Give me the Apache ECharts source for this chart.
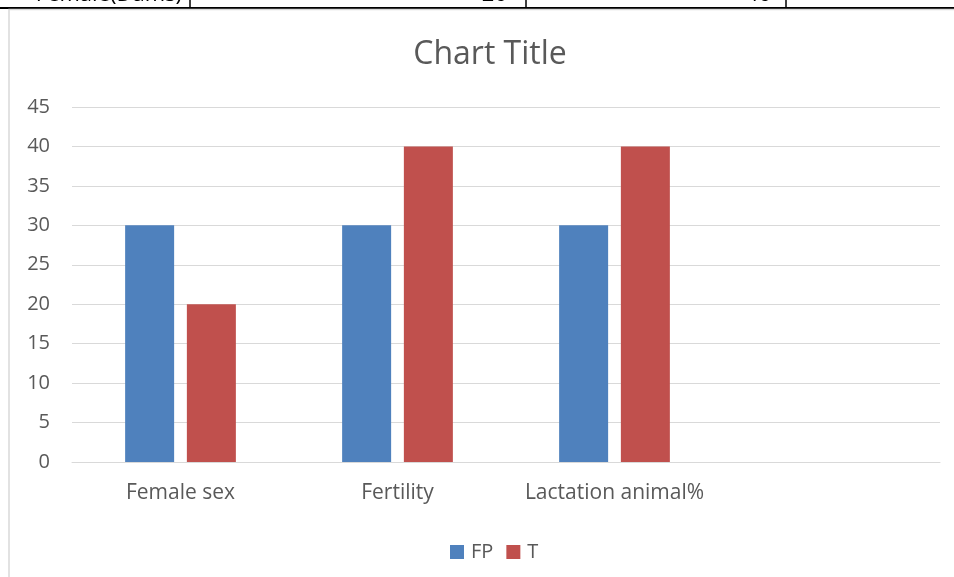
<!DOCTYPE html>
<html>
<head>
<meta charset="utf-8">
<script src="https://cdn.jsdelivr.net/npm/echarts@6/dist/echarts.min.js"></script>
<style>
    html, body { margin: 0; padding: 0; background: #fff; }
    #chart { width: 954px; height: 577px; }
</style>
</head>
<body>
<div id="chart"></div>
<script>
// Chart data
const categories = ['Female sex', 'Fertility', 'Lactation animal%', ''];
const fpValues = [30, 30, 30, null];
const tValues = [20, 40, 40, null];
const seriesNames = ['FP', 'T'];
const yTicks = { min: 0, max: 45, interval: 5 };

const FONT = '"Open Sans", Lato, sans-serif';

document.addEventListener('DOMContentLoaded', function() {
    drawChart();
});

function drawChart() {
    const myChart = echarts.init(document.getElementById('chart'));

    const option = {
        animation: false,
        backgroundColor: '#fff',
        title: {
            text: 'Chart Title',
            left: 485,
            top: 34,
            textAlign: 'center',
            textStyle: { color: '#595959', fontSize: 32, fontWeight: 'normal', fontFamily: FONT }
        },
        legend: {
            data: seriesNames,
            left: 445,
            top: 537,
            itemWidth: 14,
            itemHeight: 14,
            itemGap: 13,
            icon: 'rect',
            textStyle: { color: '#595959', fontSize: 20, fontFamily: FONT, padding: [0, 0, 0, 2] }
        },
        grid: { left: 72, right: 14, top: 107, bottom: 115, containLabel: false },
        xAxis: {
            type: 'category',
            data: categories,
            axisLine: { lineStyle: { color: '#d9d9d9', width: 1 } },
            axisTick: { show: false },
            axisLabel: { color: '#595959', fontSize: 21, fontFamily: FONT, margin: 21, interval: 0, hideOverlap: false }
        },
        yAxis: {
            type: 'value',
            min: yTicks.min,
            max: yTicks.max,
            interval: yTicks.interval,
            axisLine: { show: false },
            axisTick: { show: false },
            splitLine: { lineStyle: { color: '#d9d9d9', width: 1 } },
            axisLabel: { color: '#595959', fontSize: 20, fontFamily: FONT, margin: 22 }
        },
        series: [
            {
                name: seriesNames[0],
                type: 'bar',
                data: fpValues,
                barWidth: 49,
                barGap: '26%',
                itemStyle: { color: '#4f81bd' }
            },
            {
                name: seriesNames[1],
                type: 'bar',
                data: tValues,
                barWidth: 49,
                barGap: '26%',
                itemStyle: { color: '#c0504d' }
            }
        ],
        graphic: [
            // chart frame
            { type: 'rect', shape: { x: 9, y: 9.5, width: 960, height: 600 },
              style: { fill: null, stroke: '#d9d9d9', lineWidth: 1.5 }, z: 1 },
            // document table fragment above the chart
            { type: 'line', shape: { x1: 0, y1: 8, x2: 954, y2: 8 }, style: { stroke: '#000', lineWidth: 2 } },
            { type: 'line', shape: { x1: 190, y1: 0, x2: 190, y2: 8 }, style: { stroke: '#000', lineWidth: 1.5 } },
            { type: 'line', shape: { x1: 526, y1: 0, x2: 526, y2: 8 }, style: { stroke: '#000', lineWidth: 1.5 } },
            { type: 'line', shape: { x1: 786, y1: 0, x2: 786, y2: 8 }, style: { stroke: '#000', lineWidth: 1.5 } },
            { type: 'text', x: 182, y: 6, style: { text: 'Female(Dams)', fill: '#000', font: '22px ' + FONT, textAlign: 'right', textVerticalAlign: 'bottom' } },
            { type: 'text', x: 507, y: 6, style: { text: '20', fill: '#000', font: '22px ' + FONT, textAlign: 'right', textVerticalAlign: 'bottom' } },
            { type: 'text', x: 771, y: 6, style: { text: '40', fill: '#000', font: '22px ' + FONT, textAlign: 'right', textVerticalAlign: 'bottom' } }
        ]
    };

    myChart.setOption(option);
    window.addEventListener('resize', () => myChart.resize());
}
</script>
</body>
</html>
